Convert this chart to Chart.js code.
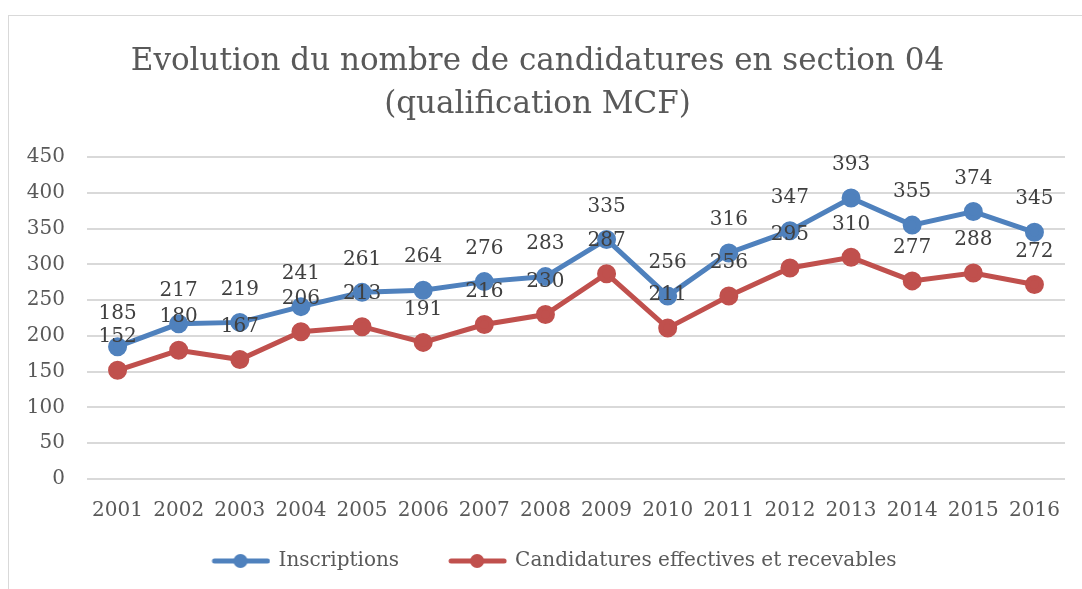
<!DOCTYPE html>
<html>
<head>
<meta charset="utf-8">
<script src="https://cdn.jsdelivr.net/npm/chart.js@4"></script>
<style>
  html, body { margin: 0; padding: 0; background: #fff; }
  #frame { position: absolute; left: 8px; top: 15px; width: 1090px; height: 600px; border: 1px solid #d9d9d9; }
  #wrap { position: absolute; left: 0; top: 0; width: 1082px; height: 589px; }
</style>
</head>
<body>
<div id="frame"></div>
<div id="wrap"><canvas id="lineChart"></canvas></div>
<script>
const years = ['2001', '2002', '2003', '2004', '2005', '2006', '2007', '2008', '2009', '2010', '2011', '2012', '2013', '2014', '2015', '2016'];
const inscriptions = [185, 217, 219, 241, 261, 264, 276, 283, 335, 256, 316, 347, 393, 355, 374, 345];
const candidatures = [152, 180, 167, 206, 213, 191, 216, 230, 287, 211, 256, 295, 310, 277, 288, 272];
const yTicks = [0, 50, 100, 150, 200, 250, 300, 350, 400, 450];

const serif = "'DejaVu Serif', serif";
const grey = '#595959';

// legend marker: line with a dot, with empty room on the left to space the items
function legendIcon(color) {
  const c = document.createElement('canvas');
  c.width = 94; c.height = 16;
  const g = c.getContext('2d');
  g.strokeStyle = color; g.lineWidth = 5; g.lineCap = 'round';
  g.beginPath(); g.moveTo(38, 8); g.lineTo(91, 8); g.stroke();
  g.fillStyle = color;
  g.beginPath(); g.arc(64, 8, 7, 0, Math.PI * 2); g.fill();
  return c;
}

// values written above each point
const valueLabels = {
  id: 'valueLabels',
  afterDatasetsDraw(chart) {
    const ctx = chart.ctx;
    ctx.save();
    ctx.font = '20px ' + serif;
    ctx.fillStyle = '#404040';
    ctx.textAlign = 'center';
    ctx.textBaseline = 'middle';
    chart.data.datasets.forEach((ds, i) => {
      chart.getDatasetMeta(i).data.forEach((pt, j) => {
        ctx.fillText(ds.data[j], pt.x, pt.y - 33);
      });
    });
    ctx.restore();
  }
};

new Chart(document.getElementById('lineChart').getContext('2d'), {
  type: 'line',
  data: {
    labels: years,
    datasets: [{
      label: 'Inscriptions',
      data: inscriptions,
      borderColor: '#4f81bd',
      backgroundColor: '#4f81bd',
      borderWidth: 5,
      pointRadius: 7,
      pointHoverRadius: 7,
      tension: 0
    }, {
      label: 'Candidatures effectives et recevables',
      data: candidatures,
      borderColor: '#c0504d',
      backgroundColor: '#c0504d',
      borderWidth: 5,
      pointRadius: 7,
      pointHoverRadius: 7,
      tension: 0
    }]
  },
  options: {
    responsive: true,
    maintainAspectRatio: false,
    animation: false,
    layout: { padding: { left: 10, right: 17, top: 40, bottom: 8 } },
    plugins: {
      title: {
        display: true,
        text: ['Evolution du nombre de candidatures en section 04', '(qualification MCF)'],
        color: grey,
        font: { family: serif, size: 31, weight: 'normal', lineHeight: 1.39 },
        padding: { top: 0, bottom: 31 }
      },
      legend: {
        position: 'bottom',
        labels: {
          color: grey,
          font: { family: serif, size: 20 },
          usePointStyle: true,
          pointStyleWidth: 90,
          padding: 16,
          generateLabels(chart) {
            return chart.data.datasets.map((ds, i) => ({
              text: ds.label,
              fontColor: grey,
              pointStyle: legendIcon(ds.borderColor),
              datasetIndex: i
            }));
          }
        }
      },
      tooltip: { enabled: false }
    },
    scales: {
      x: {
        offset: true,
        grid: { display: false },
        border: { display: false },
        ticks: { color: grey, font: { family: serif, size: 20 }, maxRotation: 0, padding: 12 }
      },
      y: {
        min: 0,
        max: 450,
        afterBuildTicks(scale) { scale.ticks = yTicks.map(v => ({ value: v })); },
        afterFit(scale) { scale.width = 77; },
        grid: { color: '#d9d9d9', lineWidth: 2, drawTicks: false },
        border: { display: false },
        ticks: { color: grey, font: { family: serif, size: 20 }, padding: 22 }
      }
    }
  },
  plugins: [valueLabels]
});
</script>
</body>
</html>
